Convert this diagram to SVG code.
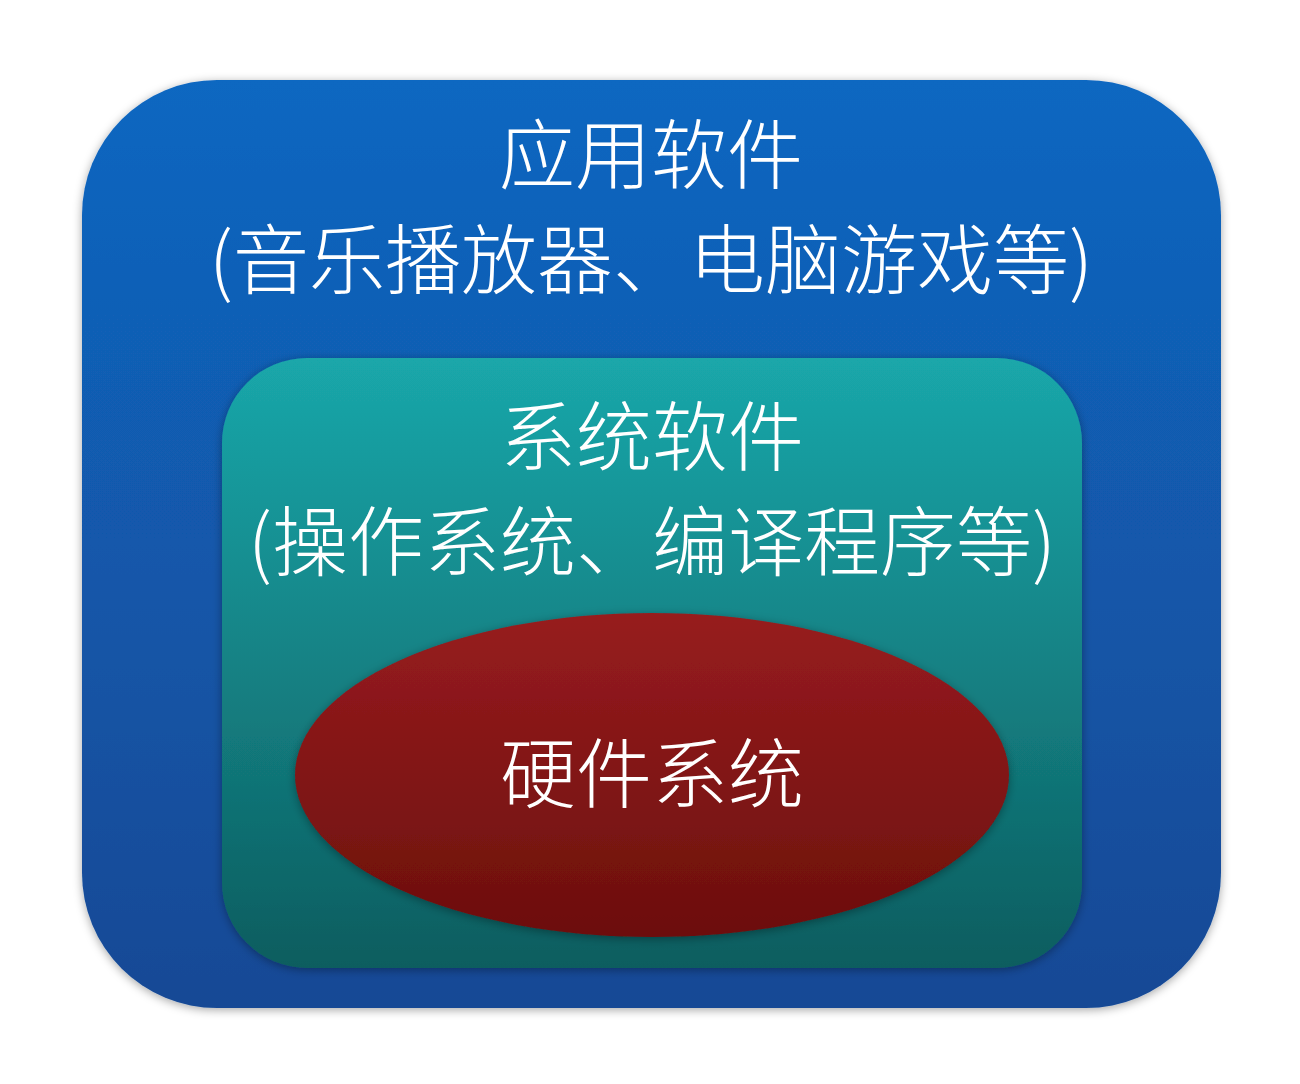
<svg xmlns="http://www.w3.org/2000/svg" width="1300" height="1084" viewBox="0 0 1300 1084">
<defs>
<linearGradient id="gBlue" x1="0" y1="0" x2="0" y2="1"><stop offset="0" stop-color="#1067c1"/><stop offset="1" stop-color="#144995"/></linearGradient>
<linearGradient id="gTeal" x1="0" y1="0" x2="0" y2="1"><stop offset="0" stop-color="#1aa7aa"/><stop offset="1" stop-color="#0d5d5f"/></linearGradient>
<linearGradient id="gRed" x1="0" y1="0" x2="0" y2="1"><stop offset="0" stop-color="#971c1f"/><stop offset="1" stop-color="#6c0f0c"/></linearGradient>
<filter id="sh" x="-10%" y="-10%" width="120%" height="120%"><feDropShadow dx="0" dy="2" stdDeviation="5" flood-color="#000" flood-opacity="0.35"/></filter>
<style>
.t{font-family:"Noto Sans CJK SC","Noto Sans",sans-serif;font-weight:300;font-size:76px;fill:#fff;text-anchor:middle}
</style>
</defs>
<g id="app">
<rect x="82" y="80" width="1139" height="928" rx="135" ry="135" fill="url(#gBlue)" filter="url(#sh)"/>
<text class="t" x="651" y="183">应用软件</text>
<text class="t" x="651" y="288">(音乐播放器、电脑游戏等)</text>
</g>
<g id="sys">
<rect x="222" y="358" width="860" height="610" rx="85" ry="85" fill="url(#gTeal)" filter="url(#sh)"/>
<text class="t" x="652" y="465">系统软件</text>
<text class="t" x="652" y="570">(操作系统、编译程序等)</text>
</g>
<g id="hw">
<ellipse cx="652" cy="775" rx="357" ry="162" fill="url(#gRed)" filter="url(#sh)"/>
<text class="t" x="652" y="802">硬件系统</text>
</g>
<g id="connectors"/>
</svg>
